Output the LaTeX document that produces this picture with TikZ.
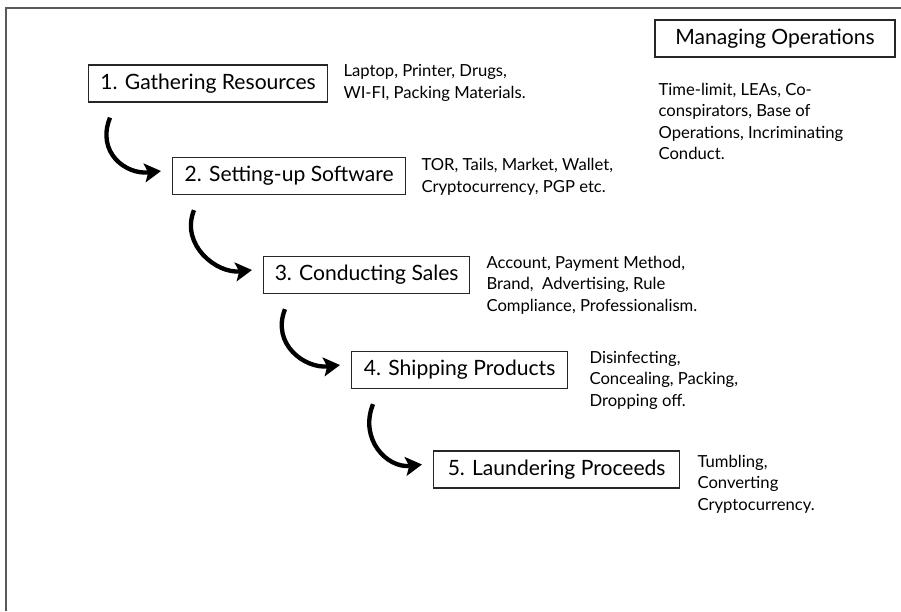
\documentclass[tikz,border=0pt]{standalone}
\usepackage{fontspec}
\setmainfont{Lato}
\usetikzlibrary{arrows.meta,calc,positioning}
\tikzset{%
	stage/.style = {draw=black!85, line width=1.1pt, rectangle, minimum height=1.11cm, anchor=west, font=\fontsize{18}{21}\selectfont},
	note/.style  = {align=left, inner sep=0pt, font=\fontsize{14.2}{18.3}\selectfont},
	flow/.style  = {line width=3.7pt, -{Stealth[length=14pt,width=16pt,inset=3pt]}},
	frame/.style = {draw=black!65, line width=1.6pt},
}

\begin{document}
\begin{tikzpicture}[x=0.03cm,y=-0.03cm]
	\useasboundingbox (0,0) rectangle (901,611);
	\draw[frame] (6,611) |- (901,8);

	% the five steps, stepping down to the right
	\node [stage,minimum width=7.17cm] (g1) at (88,83.5) {1. Gathering Resources};
	\node [stage,minimum width=6.99cm] (g2) at (172,176) {2. Setting-up Software};
	\node [stage,minimum width=6.18cm] (g3) at (263,275) {3. Conducting Sales};
	\node [stage,minimum width=6.48cm] (g4) at (351,370) {4. Shipping Products};
	\node [stage,minimum width=7.38cm] (g5) at (433,469.5) {5. Laundering Proceeds};
	\node [stage,minimum width=7.2cm,anchor=center] (mo) at (775,38.5) {Managing Operations};

	% what goes with each step
	\node [note] (n1) [right=4.5mm of g1.north east, anchor=north west] {Laptop, Printer, Drugs,\\WI-FI, Packing Materials.};
	\node [note] (n2) [right=4.5mm of g2.north east, anchor=north west, yshift=-0.4mm] {TOR, Tails, Market, Wallet,\\Cryptocurrency, PGP etc.};
	\node [note] (n3) [right=4.8mm of g3.north east, anchor=north west] {Account, Payment Method,\\Brand,\ \ Advertising, Rule\\Compliance, Professionalism.};
	\node [note] (n4) [right=6.3mm of g4.north east, anchor=north west] {Disinfecting,\\Concealing, Packing,\\Dropping off.};
	\node [note] (n5) [right=5.1mm of g5.north east, anchor=north west, yshift=-1.3mm] {Tumbling,\\Converting\\Cryptocurrency.};
	\node [note] (nm) [below=7.5mm of mo.south west, anchor=north west, xshift=1.2mm] {Time-limit, LEAs, Co-\\conspirators, Base of\\Operations, Incriminating\\Conduct.};

	\foreach \a/\b in {g1/g2,g2/g3,g3/g4,g4/g5}
		\draw[flow] ($(\a.south west)+(22,15)$) .. controls +(-14,35) and +(-35,4) .. ($(\b.west)+(-11,-5)$);
\end{tikzpicture}
\end{document}
